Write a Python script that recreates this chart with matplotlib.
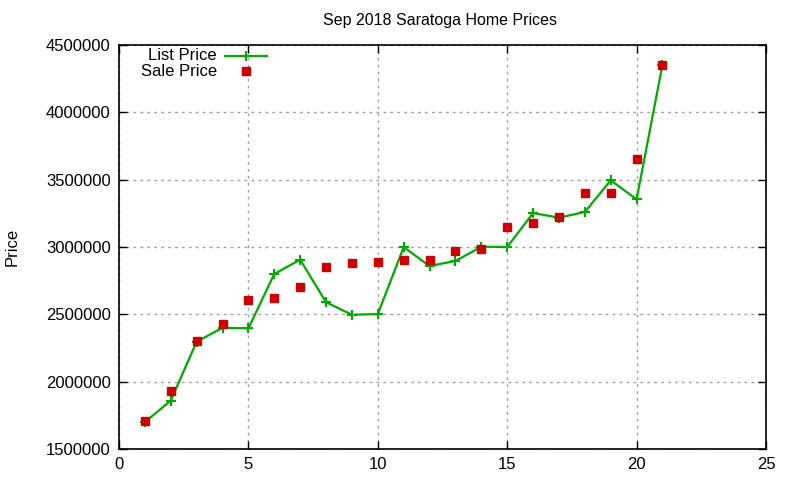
import matplotlib
matplotlib.use("Agg")
import matplotlib.pyplot as plt
from matplotlib.lines import Line2D

plt.rcParams['font.family'] = ['Liberation Sans', 'DejaVu Sans']

x = list(range(1, 22))
list_price = [1700000, 1859000, 2297000, 2400000, 2396000, 2800000, 2906000, 2590000,
              2497000, 2502000, 2999000, 2859000, 2896000, 3002000, 3000000, 3252000,
              3218000, 3260000, 3495000, 3354000, 4354000]
sale_price = [1710000, 1933000, 2302000, 2430000, 2610000, 2620000, 2705000, 2854000,
              2884000, 2890000, 2906000, 2906000, 2973000, 2987000, 3150000, 3180000,
              3223000, 3403000, 3403000, 3656000, 4354000]

xticks = [0, 5, 10, 15, 20, 25]
yticks = [1500000, 2000000, 2500000, 3000000, 3500000, 4000000, 4500000]

GREEN = '#00aa00'
RED = '#cc0000'

fig = plt.figure(figsize=(8, 4.8), dpi=100)
ax = fig.add_axes([119/800, 1 - 449/480, (766-119)/800, (449-45)/480])

ax.plot(x, list_price, color=GREEN, lw=1.6, marker='+', markersize=7, mew=1.5, zorder=3)
ax.plot(x, sale_price, ls='none', marker='s', color=RED, markersize=6, zorder=4)

ax.set_xlim(0, 25)
ax.set_ylim(1500000, 4500000)
ax.set_xticks(xticks)
ax.set_yticks(yticks)
ax.set_xticklabels([str(t) for t in xticks])
ax.set_yticklabels([str(t) for t in yticks])
ax.tick_params(direction='in', top=True, right=True, labelsize=12, length=6, width=1, pad=6)
ax.grid(True, color='#a0a0a0', ls=(0, (2, 3)), lw=1)
ax.set_axisbelow(True)
for s in ax.spines.values():
    s.set_linewidth(1.2)

fig.text(440/800, 1 - 20/480, 'Sep 2018 Saratoga Home Prices', ha='center', va='center', fontsize=11.5)
fig.text(12/800, 1 - 247/480, 'Price', rotation=90, ha='center', va='center', fontsize=12)

# legend drawn manually (gnuplot-style right-aligned labels)
ax.text(0.1515, 0.9728, 'List Price', transform=ax.transAxes, ha='right', va='center', fontsize=12)
ax.text(0.1515, 0.9356, 'Sale Price', transform=ax.transAxes, ha='right', va='center', fontsize=12)
ax.add_line(Line2D([0.1638, 0.2287], [0.9728, 0.9728], transform=ax.transAxes, color=GREEN, lw=1.6))
ax.add_line(Line2D([0.1963], [0.9728], transform=ax.transAxes, color=GREEN, marker='+', markersize=7, mew=1.5))
ax.add_line(Line2D([0.1963], [0.9356], transform=ax.transAxes, color=RED, marker='s', markersize=6, ls='none'))

fig.savefig('out.png', dpi=100)
